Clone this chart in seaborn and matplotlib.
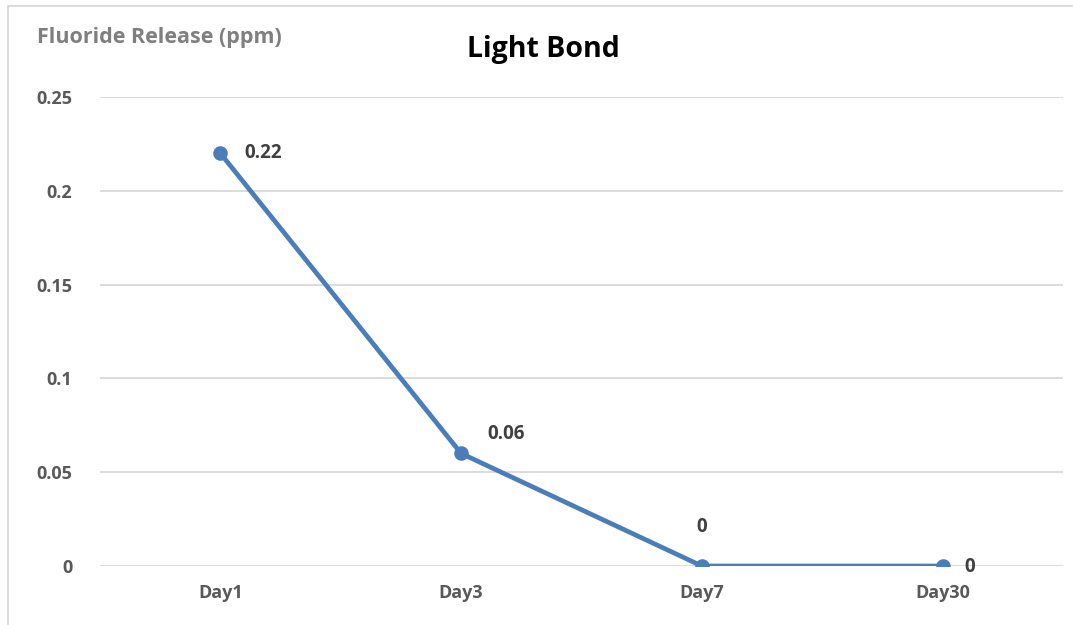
import matplotlib
matplotlib.use("Agg")
import matplotlib.pyplot as plt
import seaborn as sns
import pandas as pd
from matplotlib.lines import Line2D

days = ["Day1", "Day3", "Day7", "Day30"]
release = [0.22, 0.06, 0.0, 0.0]
label_texts = ["0.22", "0.06", "0", "0"]
yticks = [0, 0.05, 0.1, 0.15, 0.2, 0.25]
ytick_labels = ["0", "0.05", "0.1", "0.15", "0.2", "0.25"]

sns.set_style("white")
plt.rcParams['font.family'] = ['Open Sans', 'DejaVu Sans']

df = pd.DataFrame({"day": days, "value": release})

fig = plt.figure(figsize=(10.73, 6.25), dpi=100)
ax = fig.add_axes([100/1073, 1-566/625, (1063-100)/1073, (566-97)/625])

line_color = "#4a7ebb"
sns.lineplot(data=df, x="day", y="value", ax=ax, color=line_color, linewidth=3.4,
             marker="o", markersize=10.5, markeredgewidth=0, sort=False)

ax.set_xlim(-0.5, 3.5)
ax.set_ylim(0, 0.25)
ax.set_yticks(yticks)
ax.set_yticklabels(ytick_labels)
ax.yaxis.grid(True, color="#d9d9d9", linewidth=1.3)
ax.xaxis.grid(False)
for s in ax.spines.values():
    s.set_visible(False)
ax.tick_params(axis="both", length=0, labelsize=13, labelcolor="#595959")
ax.tick_params(axis="y", pad=20)
ax.tick_params(axis="x", pad=13)
for t in ax.get_xticklabels() + ax.get_yticklabels():
    t.set_fontweight("bold")
ax.set_xlabel("")
ax.set_ylabel("")

# data labels
offsets = [(17, 0, "left", "center"), (19, 14, "left", "center"),
           (0, 21, "center", "bottom"), (16, -1, "left", "center")]
for i, (v, txt) in enumerate(zip(release, label_texts)):
    dx, dy, ha, va = offsets[i]
    ax.annotate(txt, (i, v), xytext=(dx, dy), textcoords="offset points",
                ha=ha, va=va, fontsize=13.5, fontweight="bold", color="#404040",
                annotation_clip=False, clip_on=False)

fig.text(37/1073, 1-38/625, "Fluoride Release (ppm)", fontsize=15.5, fontweight="bold",
         color="#7f7f7f", ha="left", va="center")
fig.text(543/1073, 1-50/625, "Light Bond", fontsize=20.5, fontweight="bold",
         color="black", ha="center", va="center")

# chart border
fig.add_artist(Line2D([8/1073, 8/1073], [0, 1-6/625], transform=fig.transFigure,
                      color="#d9d9d9", linewidth=1.3))
fig.add_artist(Line2D([8/1073, 1], [1-6/625, 1-6/625], transform=fig.transFigure,
                      color="#d9d9d9", linewidth=1.3))

fig.savefig("out.png", dpi=100)
